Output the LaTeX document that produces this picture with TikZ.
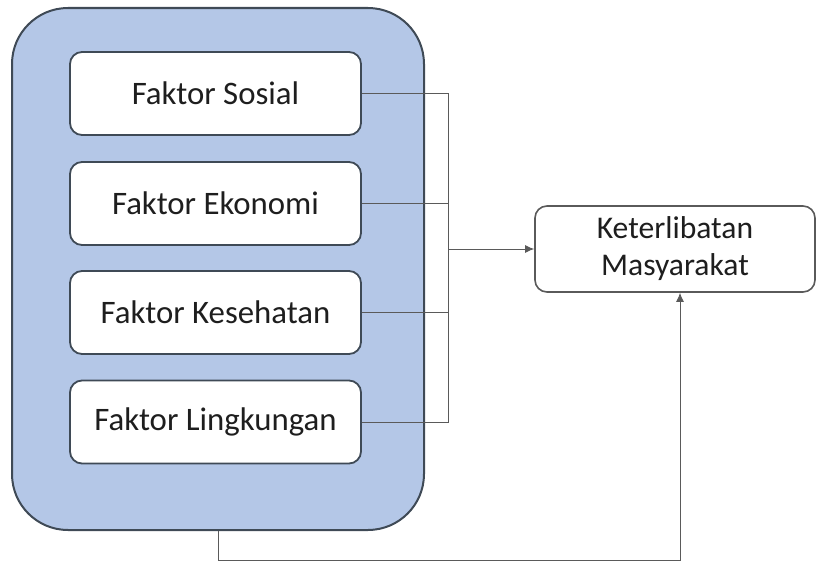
\documentclass[tikz,border=0pt]{standalone}
\usepackage{fontspec}
\setmainfont{Carlito}
\usetikzlibrary{arrows.meta}
\definecolor{panelblue}{HTML}{B4C7E7}
\definecolor{edgegray}{HTML}{3F4A56}
\definecolor{linegray}{HTML}{5A5A5A}
\definecolor{textgray}{HTML}{1E1E1E}

\begin{document}
\begin{tikzpicture}[> = {Latex[length = 4.5pt, width = 4pt]}, x = 0.5pt, y = -0.5pt,
	panel/.style = {draw = edgegray, line width = 1pt, fill = panelblue, rounded corners = 28pt,
		minimum width = 206pt, minimum height = 261pt},
	factor/.style = {draw = edgegray, line width = 0.9pt, fill = white, rounded corners = 6pt,
		minimum width = 145.5pt, minimum height = 41.5pt, text = textgray,
		font = \fontsize{16.4}{19}\selectfont},
	result/.style = {draw = linegray, line width = 0.8pt, fill = white, rounded corners = 6pt,
		minimum width = 140pt, minimum height = 43pt, align = center, text = textgray,
		font = \fontsize{15.8}{18.5}\selectfont},
	link/.style = {draw = linegray, line width = 0.5pt}]

	\useasboundingbox (0, 0) rectangle (816, 562);

	% Left panel
	
	\node [panel] (panel) at (218, 269) {};
	
	% Factors
	
	\node [factor] (sosial) at (215.5, 93.5) {Faktor Sosial};
	\node [factor] (ekonomi) at (215.5, 203.5) {Faktor Ekonomi};
	\node [factor] (kesehatan) at (215.5, 312.5) {Faktor Kesehatan};
	\node [factor] (lingkungan) at (215.5, 422) {Faktor Lingkungan};
	
	% Result
	
	\node [result] (target) at (675, 249) {Keterlibatan\\Masyarakat};
	
	% Connectors
	
	\coordinate (join) at (448, 249);
	\coordinate (bend) at (680, 560);
	
	\foreach \f in {sosial, ekonomi, kesehatan, lingkungan}
		\draw [link] (\f.east) -| (join);
	
	\draw [link, ->] (join) -- (target.west);
	\draw [link, ->] (panel.south) |- (bend) -- (target.south -| bend);

\end{tikzpicture}
\end{document}
